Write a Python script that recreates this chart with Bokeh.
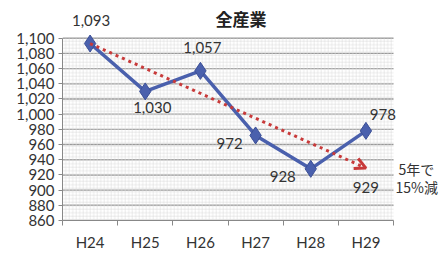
from bokeh.plotting import figure
from bokeh.models import (ColumnDataSource, LabelSet, Label, FixedTicker, Arrow,
                          OpenHead, BoxAnnotation, CustomJSTickFormatter)
from bokeh.core.properties import value
from bokeh.embed import file_html
from bokeh.resources import INLINE

categories = ["H24", "H25", "H26", "H27", "H28", "H29"]
values = [1093, 1030, 1057, 972, 928, 978]
trend_start = 1093
trend_end = 929
y_min, y_max, y_step = 860, 1100, 20
title_text = "全産業"
note_lines = ["5年で", "15%減"]

# label offsets in screen pixels (style, not data)
lab_dx = [1, 7, 2, -26, -28, 17]
lab_dy = [23, -16, 23, -8, -8, 16]

n = len(categories)
y_ticks = list(range(y_min, y_max + 1, y_step))
xs = [i + 0.5 for i in range(n)]
src = ColumnDataSource(dict(
    x=xs, y=values,
    txt=[f"{v:,}" for v in values],
    dx=lab_dx, dy=lab_dy,
))

# layout: frame extends past the axes so outside labels are not clipped
W, H = 439, 253
left, top, bottom = 62, 7, 31
px_per_cat = 331 / n
px_per_unit = 184 / (y_max - y_min)
x_end = (W - left) / px_per_cat
y_end = y_min + (H - top - bottom) / px_per_unit

p = figure(width=W, height=H, output_backend="svg", toolbar_location=None,
           x_range=(0, x_end), y_range=(y_min, y_end),
           min_border_left=left, min_border_right=0, min_border_top=top,
           min_border_bottom=bottom)
p.outline_line_color = None
p.background_fill_color = "white"
p.border_fill_color = "white"
p.xgrid.visible = False
p.ygrid.visible = False

# textured plot area
p.add_layout(BoxAnnotation(left=0, right=n, bottom=y_min, top=y_max,
                           fill_alpha=0, line_color=None, hatch_pattern="+",
                           hatch_color="#dedede", hatch_scale=3.5, hatch_weight=0.6,
                           level="underlay"))
# horizontal gridlines
p.segment(x0=[0] * len(y_ticks), x1=[n] * len(y_ticks), y0=y_ticks, y1=y_ticks,
          line_color="#999999", line_width=1.4, level="underlay")

# axes
p.xaxis.bounds = (0, n)
p.xaxis.ticker = FixedTicker(ticks=xs, minor_ticks=list(range(n + 1)))
p.xaxis.major_label_overrides = {x: c for x, c in zip(xs, categories)}
p.xaxis.major_tick_out = 0
p.xaxis.major_tick_in = 0
p.xaxis.minor_tick_out = 5
p.xaxis.minor_tick_in = 0
p.xaxis.minor_tick_line_color = "#888888"
p.xaxis.axis_line_color = "#888888"
p.xaxis.major_label_standoff = 7
p.yaxis.bounds = (y_min, y_max)
p.yaxis.ticker = FixedTicker(ticks=y_ticks)
p.yaxis.formatter = CustomJSTickFormatter(code="return tick.toLocaleString('en-US');")
p.yaxis.major_tick_out = 4
p.yaxis.major_tick_in = 0
p.yaxis.minor_tick_line_color = None
p.yaxis.axis_line_color = "#888888"
p.yaxis.major_tick_line_color = "#888888"
p.yaxis.major_label_standoff = 4
for ax in (p.xaxis, p.yaxis):
    ax.major_label_text_font = "Lato"
    ax.major_label_text_font_size = "15px"
    ax.major_label_text_color = "#333333"

# title
p.add_layout(Label(x=n / 2, y=y_max, x_offset=13, y_offset=20, text=title_text,
                   text_align="center", text_baseline="middle",
                   text_font="Noto Sans CJK JP", text_font_size="17px",
                   text_font_style="bold", text_color="#222222"))

# trend arrow
p.add_layout(Arrow(x_start=xs[0], y_start=trend_start, x_end=xs[-1], y_end=trend_end,
                   line_color="#c83a3a", line_width=3, line_dash="3 4",
                   end=OpenHead(size=11, line_color="#c83a3a", line_width=3)))

# series
p.line("x", "y", source=src, line_color="#4a60ad", line_width=3.5)
p.scatter("x", "y", source=src, marker="diamond", size=17, fill_color="#4a60ad",
          line_color="#3b4f96", line_width=1)

p.add_layout(LabelSet(x="x", y="y", text="txt", source=src, x_offset="dx", y_offset="dy",
                      text_align="center", text_baseline="middle",
                      text_font=value("Lato"), text_font_size="15px",
                      text_color="#333333"))

p.add_layout(Label(x=xs[-1], y=trend_end, text=f"{trend_end:,}", y_offset=-19,
                   text_align="center", text_baseline="middle", text_font="Lato",
                   text_font_size="15px", text_color="#333333"))

p.add_layout(Label(x=n, y=trend_end, text=note_lines[0], x_offset=5,
                   y_offset=-1, text_align="left", text_baseline="middle",
                   text_font="Noto Sans CJK JP", text_font_size="14px",
                   text_color="#333333"))
p.add_layout(Label(x=n, y=trend_end, text=note_lines[1], x_offset=2,
                   y_offset=-19, text_align="left", text_baseline="middle",
                   text_font="Noto Sans CJK JP", text_font_size="14px",
                   text_color="#333333"))

open("out.html", "w").write(file_html(p, INLINE))
